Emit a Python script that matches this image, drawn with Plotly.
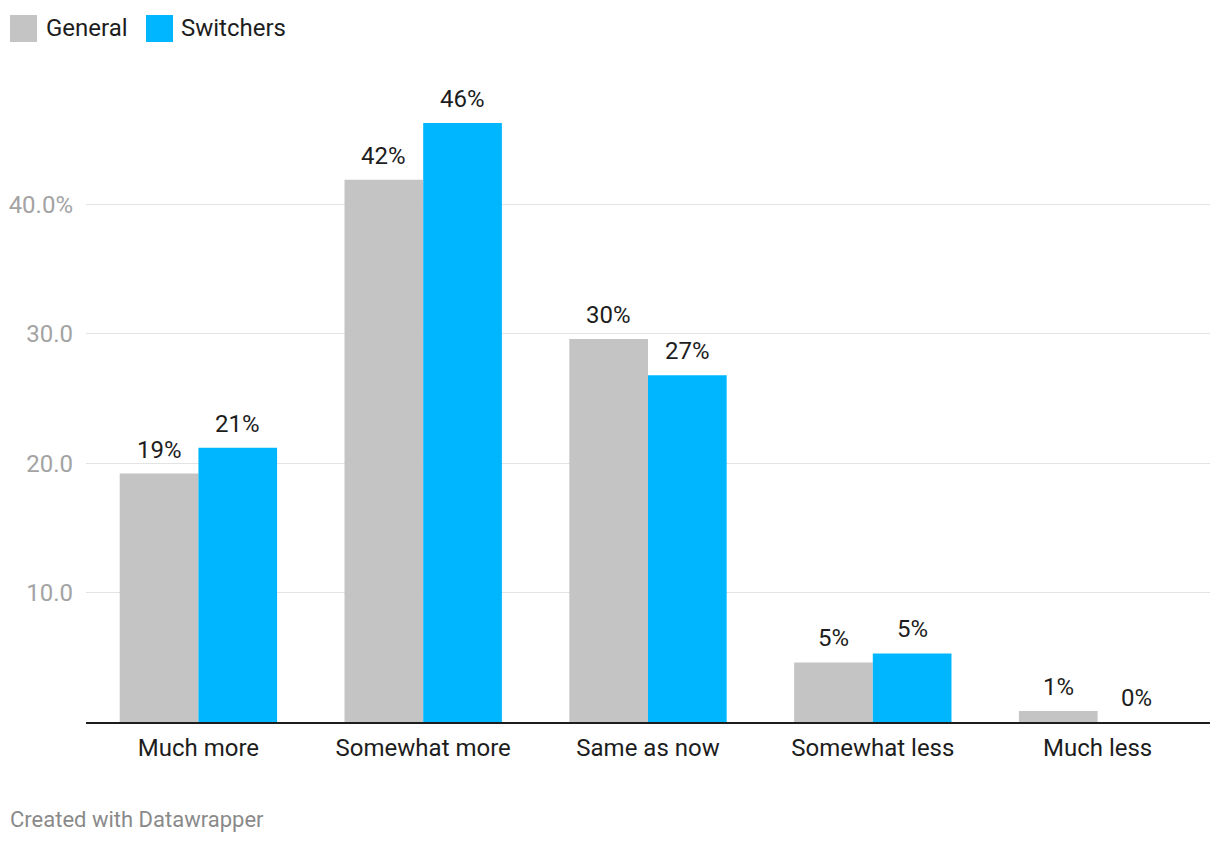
import plotly.graph_objects as go

categories = ["Much more", "Somewhat more", "Same as now", "Somewhat less", "Much less"]
general = [19.2, 41.9, 29.6, 4.6, 0.85]
switchers = [21.2, 46.3, 26.8, 5.3, 0.0]
general_labels = ["19%", "42%", "30%", "5%", "1%"]
switchers_labels = ["21%", "46%", "27%", "5%", "0%"]
tick_vals = [10, 20, 30, 40]
tick_text = ["10.0", "20.0", "30.0", "40.0%"]

# page body has an 8px margin; figure coordinates are offset by it
OFF = 8
W, H = 1220 - OFF, 844 - OFF
ML, MR, MT = 86 - OFF, 10, 75 - OFF
MB = H - (722 - OFF)
FONT = "Roboto, 'Noto Sans', sans-serif"
GRAY = "#c4c4c4"
BLUE = "#00b7ff"

def px_x(px):
    return (px - OFF - ML) / (W - ML - MR)

def px_y(py):
    return 1 - (py - OFF - MT) / (H - MT - MB)

fig = go.Figure()
fig.add_trace(go.Bar(name="General", x=categories, y=general, marker_color=GRAY,
                     marker_line_width=0, showlegend=False, hoverinfo="skip"))
fig.add_trace(go.Bar(name="Switchers", x=categories, y=switchers, marker_color=BLUE,
                     marker_line_width=0, showlegend=False, hoverinfo="skip"))

annotations = []
half = 0.175
for i in range(len(categories)):
    for off, val, lab in ((-half, general[i], general_labels[i]), (half, switchers[i], switchers_labels[i])):
        annotations.append(dict(x=i + off, y=val, xref="x", yref="y", text=lab,
                                showarrow=False, yanchor="bottom", yshift=8,
                                font=dict(family=FONT, size=24, color="#1d1d1d")))

# legend
shapes = []
for (x0, x1, col), (tx, label) in zip(((10, 37, GRAY), (146, 173, BLUE)), ((44, "General"), (179, "Switchers"))):
    shapes.append(dict(type="rect", xref="paper", yref="paper",
                       x0=px_x(x0), x1=px_x(x1), y0=px_y(42), y1=px_y(15),
                       fillcolor=col, line_width=0, layer="above"))
    annotations.append(dict(x=px_x(tx), y=px_y(28.5), xref="paper", yref="paper", text=label,
                            showarrow=False, xanchor="left", yanchor="middle",
                            font=dict(family=FONT, size=24, color="#1d1d1d")))

annotations.append(dict(x=px_x(8), y=px_y(820), xref="paper", yref="paper",
                        text="Created with Datawrapper", showarrow=False,
                        xanchor="left", yanchor="middle",
                        font=dict(family=FONT, size=22, color="#8a8a8a")))

fig.update_layout(
    width=W, height=H,
    margin=dict(l=ML, r=MR, t=MT, b=MB, pad=0),
    paper_bgcolor="white", plot_bgcolor="white",
    barmode="group", bargap=0.3, bargroupgap=0,
    annotations=annotations, shapes=shapes,
    font=dict(family=FONT),
    xaxis=dict(showgrid=False, ticks="", showline=True, linecolor="#1d1d1d", linewidth=2,
               tickfont=dict(family=FONT, size=24, color="#1d1d1d"), ticklabelstandoff=3,
               automargin=False, fixedrange=True),
    yaxis=dict(range=[0, 50], tickvals=tick_vals, ticktext=tick_text, showgrid=True,
               gridcolor="#e3e3e3", gridwidth=1, zeroline=False, showline=False, ticks="",
               tickfont=dict(family=FONT, size=24, color="#a3a3a3"), ticklabelstandoff=12,
               automargin=False, fixedrange=True),
)

fig.write_html("out.html", config={"displayModeBar": False})
